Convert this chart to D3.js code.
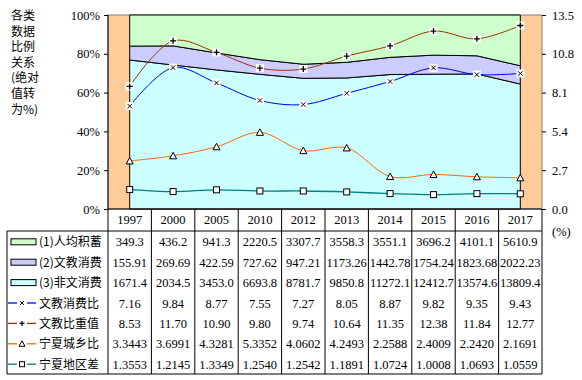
<!DOCTYPE html>
<html><head><meta charset="utf-8">
<script src="https://cdn.jsdelivr.net/npm/d3@7"></script>
<style>body{margin:0;background:#fff}svg{display:block}</style>
</head><body><svg id="c" width="582" height="380"></svg>
<script>
const years = ["1997","2000","2005","2010","2012","2013","2014","2015","2016","2017"];
const savings = [349.3,436.2,941.3,2220.5,3307.7,3558.3,3551.1,3696.2,4101.1,5610.9];
const eduSpend = [155.91,269.69,422.59,727.62,947.21,1173.26,1442.78,1754.24,1823.68,2022.23];
const otherSpend = [1671.4,2034.5,3453.0,6693.8,8781.7,9850.8,11272.1,12412.7,13574.6,13809.4];
const eduRatio = [7.16,9.84,8.77,7.55,7.27,8.05,8.87,9.82,9.35,9.43];
const eduWeight = [8.53,11.70,10.90,9.80,9.74,10.64,11.35,12.38,11.84,12.77];
const urbanRural = [3.3443,3.6991,4.3281,5.3352,4.0602,4.2493,2.2588,2.4009,2.2420,2.1691];
const regionGap = [1.3553,1.2145,1.3349,1.2540,1.2542,1.1891,1.0724,1.0008,1.0693,1.0559];
const leftTicks = [0,0.2,0.4,0.6,0.8,1];
const rightTicks = [0,2.7,5.4,8.1,10.8,13.5];
const titleLines = ["各类","数据","比例","关系","(绝对","值转","为%)"];

const svg = d3.select("#c");
const L=108, R=542, T=15, B=209;
const serif = "'Liberation Serif','Times New Roman',serif";
const cjk = "'Noto Sans CJK SC',sans-serif";

const x = d3.scaleBand().domain(years).range([L,R]);
const cx = d => x(d)+x.bandwidth()/2;
const yL = d3.scaleLinear().domain([0,1]).range([B,T]);
const yR = d3.scaleLinear().domain([0,13.5]).range([B,T]);

// plot background
svg.append("rect").attr("x",L).attr("y",T).attr("width",R-L).attr("height",B-T)
  .attr("fill","#FFCC99").attr("stroke","#808080").attr("stroke-width",1);

// stacked 100% areas
const rows = years.map((y,i)=>({year:y, other:otherSpend[i], edu:eduSpend[i], sav:savings[i]}));
const stack = d3.stack().keys(["other","edu","sav"]).offset(d3.stackOffsetExpand);
const series = stack(rows);
const areaColors = {other:"#CCFFFF", edu:"#CCCCFF", sav:"#CCFFCC"};
const area = d3.area().x(d=>cx(d.data.year)).y0(d=>yL(d[0])).y1(d=>yL(d[1]));
svg.append("g").selectAll("path").data(series).join("path")
  .attr("d",area).attr("fill",d=>areaColors[d.key]).attr("stroke","#000").attr("stroke-width",1);

// axes frame lines
svg.append("line").attr("x1",L).attr("x2",L).attr("y1",T).attr("y2",B).attr("stroke","#000");
svg.append("line").attr("x1",L).attr("x2",R).attr("y1",B).attr("y2",B).attr("stroke","#000");

// left axis
const gl = svg.append("g").attr("transform",`translate(${L},0)`)
  .call(d3.axisLeft(yL).tickValues(leftTicks).tickFormat(d3.format(".0%")).tickSize(4).tickPadding(4));
gl.select(".domain").remove();
gl.selectAll("text").attr("font-family",serif).attr("font-size",12.5).attr("fill","#000");
gl.selectAll("line").attr("stroke","#000");

// right axis
const gr = svg.append("g").attr("transform",`translate(${R},0)`)
  .call(d3.axisRight(yR).tickValues(rightTicks).tickFormat(d3.format(".1f")).tickSize(4).tickPadding(6));
gr.select(".domain").remove();
gr.selectAll("text").attr("font-family",serif).attr("font-size",12.5).attr("fill","#000");
gr.selectAll("line").attr("stroke","#000");
svg.append("text").attr("x",552).attr("y",236).attr("font-family",serif).attr("font-size",12.5).text("(%)");

// title
svg.append("g").selectAll("text").data(titleLines).join("text")
  .attr("x",11).attr("y",(d,i)=>20+i*15.6).attr("font-family",cjk).attr("font-size",12)
  .text(d=>d);

// lines
const lineGen = d3.line().x((d,i)=>cx(years[i])).y(d=>yR(d)).curve(d3.curveCatmullRom.alpha(0.5));
const lineDefs = [
  {name:"宁夏地区差", vals:regionGap, color:"#008080", marker:"square", w:1.3},
  {name:"宁夏城乡比", vals:urbanRural, color:"#FF6600", marker:"tri", w:1},
  {name:"文教比重值", vals:eduWeight, color:"#993300", marker:"plus", w:1},
  {name:"文教消费比", vals:eduRatio, color:"#0000FF", marker:"x", w:1}
];
function drawMarker(g, type, px, py, s, box){
  const h=s/2;
  if(type==="square"){
    g.append("rect").attr("x",px-h).attr("y",py-h).attr("width",s).attr("height",s)
      .attr("fill","#fff").attr("stroke","#000").attr("stroke-width",1);
  } else if(type==="tri"){
    g.append("path").attr("d",`M${px},${py-h-0.5}L${px+h+0.5},${py+h}L${px-h-0.5},${py+h}Z`)
      .attr("fill","#fff").attr("stroke","#000").attr("stroke-width",1);
  } else if(type==="plus"){
    if(box) g.append("rect").attr("x",px-h-1).attr("y",py-h-1).attr("width",s+2).attr("height",s+2).attr("fill","#fff");
    g.append("path").attr("d",`M${px-h},${py}H${px+h}M${px},${py-h}V${py+h}`).attr("stroke","#000").attr("stroke-width",1.3);
  } else {
    if(box) g.append("rect").attr("x",px-h-1).attr("y",py-h-1).attr("width",s+2).attr("height",s+2).attr("fill","#fff");
    const k=h*0.75;
    g.append("path").attr("d",`M${px-k},${py-k}L${px+k},${py+k}M${px+k},${py-k}L${px-k},${py+k}`).attr("stroke","#000").attr("stroke-width",1);
  }
}
lineDefs.forEach(def=>{
  svg.append("path").attr("d",lineGen(def.vals)).attr("fill","none").attr("stroke",def.color).attr("stroke-width",def.w);
});
lineDefs.forEach(def=>{
  const g = svg.append("g");
  def.vals.forEach((v,i)=>drawMarker(g, def.marker, cx(years[i]), yR(v), 6, true));
});

// table
const tableBottom = 374, headerLine = 231, tableLeft = 7;
const tg = svg.append("g");
tg.selectAll("text.yr").data(years).join("text").attr("class","yr")
  .attr("x",d=>cx(d)).attr("y",224).attr("text-anchor","middle")
  .attr("font-family",serif).attr("font-size",12.5).text(d=>d);
const bounds = years.map(d=>x(d)).concat([R]);
tg.selectAll("line.v").data(bounds).join("line").attr("class","v")
  .attr("x1",d=>d).attr("x2",d=>d).attr("y1",B).attr("y2",tableBottom).attr("stroke","#000");
tg.append("line").attr("x1",tableLeft).attr("x2",R).attr("y1",headerLine).attr("y2",headerLine).attr("stroke","#000");
tg.append("line").attr("x1",tableLeft).attr("x2",R).attr("y1",tableBottom).attr("y2",tableBottom).attr("stroke","#000");
tg.append("line").attr("x1",tableLeft).attr("x2",tableLeft).attr("y1",headerLine).attr("y2",tableBottom).attr("stroke","#000");

const tableRows = [
  {label:"(1)人均积蓄", vals:savings, fmt:".1f", kind:"area", color:"#CCFFCC"},
  {label:"(2)文教消费", vals:eduSpend, fmt:".2f", kind:"area", color:"#CCCCFF"},
  {label:"(3)非文消费", vals:otherSpend, fmt:".1f", kind:"area", color:"#CCFFFF"},
  {label:"文教消费比", vals:eduRatio, fmt:".2f", kind:"line", color:"#0000FF", marker:"x"},
  {label:"文教比重值", vals:eduWeight, fmt:".2f", kind:"line", color:"#993300", marker:"plus"},
  {label:"宁夏城乡比", vals:urbanRural, fmt:".4f", kind:"line", color:"#FF6600", marker:"tri"},
  {label:"宁夏地区差", vals:regionGap, fmt:".4f", kind:"line", color:"#008080", marker:"square"}
];
const rowH = 20.4, row0 = 241.8;
tableRows.forEach((r,ri)=>{
  const yc = row0 + ri*rowH;
  const g = tg.append("g");
  if(r.kind==="area"){
    g.append("rect").attr("x",11).attr("y",yc-3).attr("width",25).attr("height",6)
      .attr("fill",r.color).attr("stroke","#000").attr("stroke-width",1);
  } else {
    g.append("line").attr("x1",8).attr("x2",17).attr("y1",yc).attr("y2",yc).attr("stroke",r.color).attr("stroke-width",1.3);
    g.append("line").attr("x1",27).attr("x2",36).attr("y1",yc).attr("y2",yc).attr("stroke",r.color).attr("stroke-width",1.3);
    drawMarker(g, r.marker, 22, yc, 5, false);
  }
  g.append("text").attr("x",39).attr("y",yc+4.5).attr("font-family",cjk).attr("font-size",12).text(r.label);
  g.selectAll("text.v").data(r.vals).join("text").attr("class","v")
    .attr("x",(d,i)=>cx(years[i])).attr("y",yc+4.5).attr("text-anchor","middle")
    .attr("font-family",serif).attr("font-size",12.5).text(d=>d3.format(r.fmt)(d));
});
</script></body></html>
